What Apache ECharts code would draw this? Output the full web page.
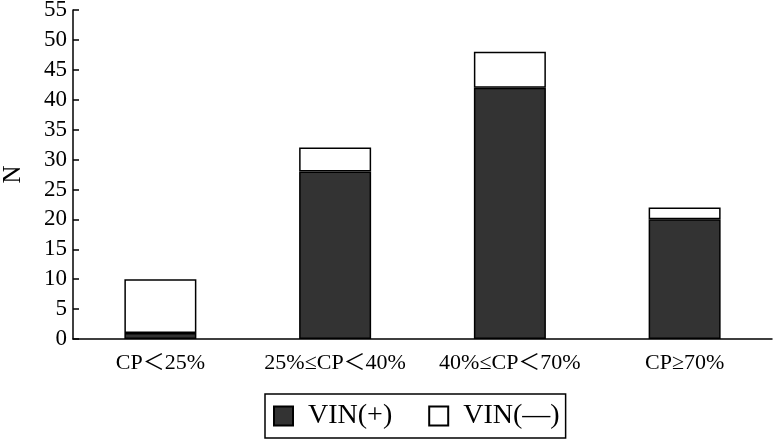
<!DOCTYPE html>
<html><head><meta charset="utf-8">
<script src="https://cdn.jsdelivr.net/npm/echarts@6/dist/echarts.min.js"></script>
<style>html,body{margin:0;padding:0;background:#fff}#c{width:774px;height:441px}</style>
</head><body><div id="c"></div>
<script>
const categories = ['CP＜25%', '25%≤CP＜40%', '40%≤CP＜70%', 'CP≥70%'];
const vinPos = [1, 28, 42, 20];
const vinNeg = [9, 4, 6, 2];
const yTicks = [0, 55, 5];
const seriesNames = ['VIN(+)', 'VIN(—)'];
const FONT = '"Liberation Serif", "Noto Sans CJK SC", serif';
const chart = echarts.init(document.getElementById('c'));
chart.setOption({
  animation: false,
  textStyle: { fontFamily: FONT, color: '#000' },
  grid: { left: 73, right: 2, top: 10, bottom: 102, outerBoundsMode: 'none', containLabel: false },
  legend: {
    bottom: 3, left: 265,
    data: seriesNames,
    orient: 'horizontal',
    borderColor: '#000', borderWidth: 1.5, borderRadius: 0,
    padding: [8, 6, 8, 8],
    itemGap: 36, itemWidth: 19, itemHeight: 19,
    icon: 'rect',
    textStyle: { fontFamily: FONT, fontSize: 28, color: '#000', padding: [0, 0, 0, 10] }
  },
  xAxis: {
    type: 'category', data: categories,
    axisLine: { lineStyle: { color: '#000', width: 1.5 } },
    axisTick: { inside: true, length: 6, lineStyle: { color: '#000', width: 1.5 } },
    axisLabel: { interval: 0, fontFamily: FONT, fontSize: 22, color: '#000', margin: 13 }
  },
  yAxis: {
    type: 'value', min: yTicks[0], max: yTicks[1], interval: yTicks[2],
    name: 'N', nameLocation: 'middle', nameRotate: 90, nameGap: 47,
    nameTextStyle: { fontFamily: FONT, fontSize: 25, color: '#000' },
    splitLine: { show: false },
    axisLine: { show: true, lineStyle: { color: '#000', width: 1.5 } },
    axisTick: { show: true, inside: true, length: 6, lineStyle: { color: '#000', width: 1.5 } },
    axisLabel: { fontFamily: FONT, fontSize: 23, color: '#000', margin: 6 }
  },
  series: [
    { name: seriesNames[0], type: 'bar', stack: 's', data: vinPos, barWidth: 72,
      itemStyle: { color: '#333333', borderColor: '#000', borderWidth: 1.5 } },
    { name: seriesNames[1], type: 'bar', stack: 's', data: vinNeg, barWidth: 72,
      itemStyle: { color: '#ffffff', borderColor: '#000', borderWidth: 1.5 } }
  ]
});
</script></body></html>
